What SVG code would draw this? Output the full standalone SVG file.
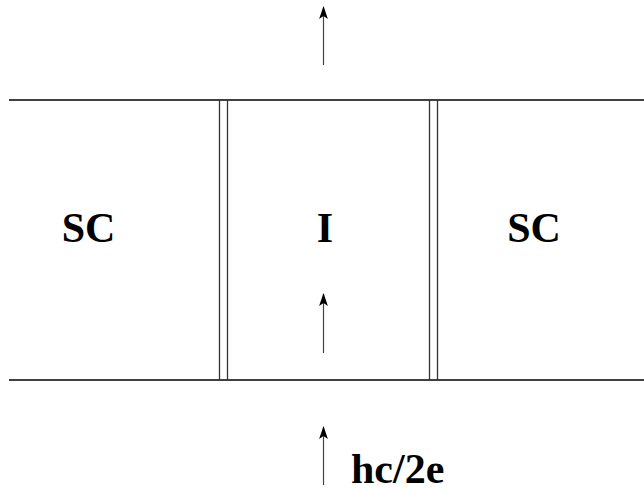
<svg xmlns="http://www.w3.org/2000/svg" width="644" height="489" viewBox="0 0 644 489">
<style>
.ln{stroke:#000;stroke-width:1.3;fill:none}
.vl{stroke:#333;stroke-width:1.3;fill:none}
.ar{stroke:#444;stroke-width:1.2;fill:none}
.t{font-family:"Liberation Serif","Times New Roman",serif;font-weight:bold;font-size:42px;fill:#000}
</style>
<defs>
<marker id="ah" markerWidth="13" markerHeight="10" refX="12" refY="5" orient="auto" markerUnits="userSpaceOnUse" viewBox="0 0 13 10">
<path d="M13,5 L0,0.6 L3,5 L0,9.4 Z" fill="#000"/>
</marker>
</defs>
<g id="frame">
<line class="ln" x1="9" y1="100" x2="644" y2="100"/>
<line class="ln" x1="9" y1="380" x2="644" y2="380"/>
</g>
<g id="junction-left">
<line class="vl" x1="219.5" y1="100" x2="219.5" y2="380"/>
<line class="vl" x1="227.5" y1="100" x2="227.5" y2="380"/>
</g>
<g id="junction-right">
<line class="vl" x1="429.5" y1="100" x2="429.5" y2="380"/>
<line class="vl" x1="437.5" y1="100" x2="437.5" y2="380"/>
</g>
<g id="sc-left"><text class="t" x="88.5" y="242" text-anchor="middle">SC</text></g>
<g id="insulator"><text class="t" x="325" y="242" text-anchor="middle">I</text></g>
<g id="sc-right"><text class="t" x="534" y="242" text-anchor="middle">SC</text></g>
<g id="connectors">
<line class="ar" x1="323.5" y1="65" x2="323.5" y2="7" marker-end="url(#ah)"/>
<line class="ar" x1="323.5" y1="353" x2="323.5" y2="294" marker-end="url(#ah)"/>
<line class="ar" x1="323.5" y1="485" x2="323.5" y2="427" marker-end="url(#ah)"/>
</g>
<g id="label-flux"><text class="t" x="351" y="483" font-size="41">hc/2e</text></g>
</svg>
